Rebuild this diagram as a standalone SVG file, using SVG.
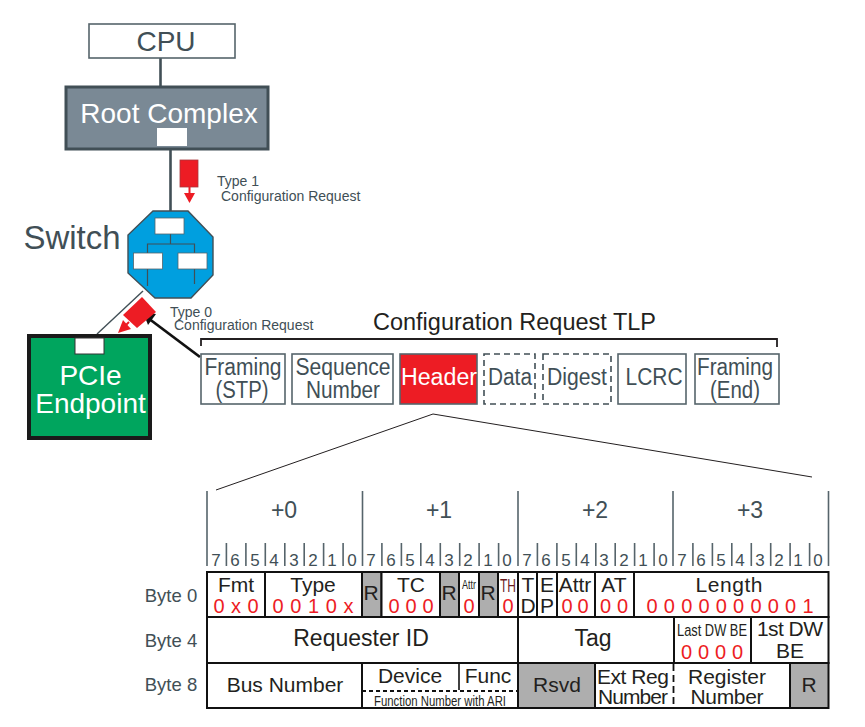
<svg xmlns="http://www.w3.org/2000/svg" width="865" height="727" viewBox="0 0 865 727">
<style>
text{font-family:"Liberation Sans",Arial,sans-serif;text-anchor:middle;fill:#231f20}
.g{fill:#414f56}
.r{fill:#ed1c24}
.wt{fill:#fff}
.bx{fill:#fff;stroke:#56646b;stroke-width:1.6}
.ds{fill:#fff;stroke:#414f56;stroke-width:1.6;stroke-dasharray:6 4}
.w{fill:#fff}
.ln{fill:none;stroke:#414f56;stroke-width:2.6}
.thin{fill:none;stroke:#231f20;stroke-width:1}
.cell{stroke:#111;stroke-width:2;fill:#fff}
.res{stroke:#111;stroke-width:2;fill:#aeaeae}
.tick{stroke:#56646b;stroke-width:1.6}
.div{stroke:#111;stroke-width:1.8;stroke-dasharray:4 3;fill:none}
.d{font-size:17px;fill:#414f56}
.f18{font-size:18.5px}.f20{font-size:20px}.f21{font-size:21px}.f23{font-size:23px}
.t{font-size:14px;text-anchor:start;fill:#414f56}
</style>
<g id="connectors">
<path class="ln" d="M160.500 58V86"/>
<path class="ln" d="M170.500 150V211"/>
<path d="M143 291L97 334" fill="none" stroke="#414f56" stroke-width="1.400"/>
<path d="M200 357L148 318" fill="none" stroke="#111" stroke-width="2.800"/>
<path d="M143 312L156 314L148 325Z" fill="#111"/>
<path class="thin" d="M216 490L433 414L812 477"/>
<path d="M201 346V339H777V347" fill="none" stroke="#231f20" stroke-width="1.800"/>
</g>
<g id="cpu"><rect class="bx" x="89" y="24" width="146" height="34"/><text x="166" y="51" font-size="28" class="g">CPU</text></g>
<g id="root-complex"><rect x="66" y="87" width="202" height="62" fill="#7a8995" stroke="#414f56" stroke-width="3"/><text x="169" y="123" font-size="28" class="wt">Root Complex</text><rect class="w" x="157" y="128" width="30" height="18"/></g>
<g id="switch"><text x="72" y="249" font-size="33" class="g">Switch</text>
<path d="M153 211H188L213 237V275L191 298H155L128 273V235Z" fill="#009fdf" stroke="#414f56" stroke-width="1.400"/>
<path d="M170.500 234V244M147.500 257V244H194.500V257M147.500 269V286M194.500 269V284" fill="none" stroke="#414f56" stroke-width="1.200"/>
<rect class="w" x="155" y="218" width="29" height="16" stroke="#56646b" stroke-width="0.800"/>
<rect class="w" x="133.500" y="253" width="29" height="16" stroke="#56646b" stroke-width="0.800"/>
<rect class="w" x="178" y="253" width="29" height="16" stroke="#56646b" stroke-width="0.800"/></g>
<g id="type1-packet"><rect x="180" y="160" width="18" height="27" fill="#ed1c24" stroke="#a8383c" stroke-width="0.800"/><path d="M189.500 187V193" stroke="#ed1c24" stroke-width="2"/><path d="M184 193H195L189.500 203Z" fill="#ed1c24"/></g>
<g id="type0-packet"><path d="M142 297L156 312L137 328L123 315Z" fill="#ed1c24"/><path d="M129 322L125 326" stroke="#ed1c24" stroke-width="2"/><path d="M118 333L131 329L123 320Z" fill="#ed1c24"/></g>
<text class="t" x="217" y="186">Type 1</text><text class="t" x="221" y="201">Configuration Request</text>
<text class="t" x="170" y="317">Type 0</text><text class="t" x="174" y="330">Configuration Request</text>
<g id="endpoint"><rect x="29" y="336" width="121" height="102" fill="#00a55e" stroke="#1a1a1a" stroke-width="4"/><rect class="w" x="75" y="338" width="29" height="16" stroke="#333" stroke-width="1"/><text x="90.500" y="385" font-size="28" class="wt">PCIe</text><text x="90.500" y="413" font-size="28" class="wt">Endpoint</text></g>
<text x="514.500" y="330" font-size="23.500">Configuration Request TLP</text>
<g id="tlp-framing-stp"><rect class="bx" x="201" y="354" width="84" height="50"/><text x="243" y="375" class="f23 g" textLength="77" lengthAdjust="spacingAndGlyphs">Framing</text><text x="242" y="398" class="f23 g" textLength="53" lengthAdjust="spacingAndGlyphs">(STP)</text></g>
<g id="tlp-seq"><rect class="bx" x="292" y="354" width="101" height="50"/><text x="343" y="375" class="f23 g" textLength="95" lengthAdjust="spacingAndGlyphs">Sequence</text><text x="343" y="398" class="f23 g" textLength="74" lengthAdjust="spacingAndGlyphs">Number</text></g>
<g id="tlp-header"><rect x="400" y="354" width="77" height="50" fill="#ed1c24" stroke="#56646b" stroke-width="1.600"/><text x="439" y="385" class="f23 wt" textLength="76" lengthAdjust="spacingAndGlyphs">Header</text></g>
<g id="tlp-data"><rect class="ds" x="484" y="354" width="51" height="50"/><text x="510" y="385" class="f23 g" textLength="44" lengthAdjust="spacingAndGlyphs">Data</text></g>
<g id="tlp-digest"><rect class="ds" x="543" y="354" width="68" height="50"/><text x="577" y="385" class="f23 g" textLength="60" lengthAdjust="spacingAndGlyphs">Digest</text></g>
<g id="tlp-lcrc"><rect class="bx" x="618" y="354" width="68" height="50"/><text x="654" y="385" class="f23 g" textLength="57" lengthAdjust="spacingAndGlyphs">LCRC</text></g>
<g id="tlp-framing-end"><rect class="bx" x="695" y="354" width="84" height="50"/><text x="735" y="375" class="f23 g" textLength="76" lengthAdjust="spacingAndGlyphs">Framing</text><text x="735" y="398" class="f23 g" textLength="50" lengthAdjust="spacingAndGlyphs">(End)</text></g>
<g id="header-scale">
<path class="tick" d="M207 491V566M362.500 491V566M518 491V566M673 491V566M828.500 491V566"/>
<path class="tick" d="M226.400 543V566M245.900 543V566M265.300 543V566M284.800 543V566M304.200 543V566M323.600 543V566M343.100 543V566M381.900 543V566M401.400 543V566M420.800 543V566M440.300 543V566M459.700 543V566M479.100 543V566M498.600 543V566M537.400 543V566M556.900 543V566M576.300 543V566M595.800 543V566M615.200 543V566M634.600 543V566M654.100 543V566M692.900 543V566M712.400 543V566M731.800 543V566M751.300 543V566M770.700 543V566M790.100 543V566M809.600 543V566"/>
<text x="284" y="518" class="f23 g">+0</text><text x="439" y="518" class="f23 g">+1</text><text x="595" y="518" class="f23 g">+2</text><text x="750" y="518" class="f23 g">+3</text>
<text x="216" y="566" class="d">7</text><text x="235" y="566" class="d">6</text><text x="255" y="566" class="d">5</text><text x="274" y="566" class="d">4</text><text x="294" y="566" class="d">3</text><text x="313" y="566" class="d">2</text><text x="332" y="566" class="d">1</text><text x="352" y="566" class="d">0</text>
<text x="371" y="566" class="d">7</text><text x="391" y="566" class="d">6</text><text x="410" y="566" class="d">5</text><text x="430" y="566" class="d">4</text><text x="449" y="566" class="d">3</text><text x="468" y="566" class="d">2</text><text x="488" y="566" class="d">1</text><text x="507" y="566" class="d">0</text>
<text x="527" y="566" class="d">7</text><text x="546" y="566" class="d">6</text><text x="566" y="566" class="d">5</text><text x="585" y="566" class="d">4</text><text x="604" y="566" class="d">3</text><text x="624" y="566" class="d">2</text><text x="643" y="566" class="d">1</text><text x="663" y="566" class="d">0</text>
<text x="682" y="566" class="d">7</text><text x="701" y="566" class="d">6</text><text x="721" y="566" class="d">5</text><text x="740" y="566" class="d">4</text><text x="760" y="566" class="d">3</text><text x="779" y="566" class="d">2</text><text x="798" y="566" class="d">1</text><text x="818" y="566" class="d">0</text>
</g>
<g id="byte-labels"><text x="171" y="602" class="f18 g">Byte 0</text><text x="171" y="647" class="f18 g">Byte 4</text><text x="171" y="691" class="f18 g">Byte 8</text></g>
<g id="row0">
<rect class="cell" x="207" y="572" width="58" height="45"/><rect class="cell" x="265" y="572" width="97" height="45"/><rect class="res" x="362" y="572" width="19.500" height="45"/><rect class="cell" x="381.500" y="572" width="58.500" height="45"/><rect class="res" x="440" y="572" width="19" height="45"/><rect class="cell" x="459" y="572" width="20" height="45"/><rect class="res" x="479" y="572" width="19" height="45"/><rect class="cell" x="498" y="572" width="20" height="45"/><rect class="cell" x="518" y="572" width="19" height="45"/><rect class="cell" x="537" y="572" width="20" height="45"/><rect class="cell" x="557" y="572" width="38" height="45"/><rect class="cell" x="595" y="572" width="39" height="45"/><rect class="cell" x="634" y="572" width="194.500" height="45"/>
<text x="236" y="592" class="f21">Fmt</text><text x="313" y="592" class="f21">Type</text><text x="371" y="600" class="f21">R</text><text x="411" y="592" class="f21">TC</text><text x="449" y="600" class="f21">R</text><text x="469" y="589" font-size="13" textLength="14" lengthAdjust="spacingAndGlyphs">Attr</text><text x="488" y="600" class="f21">R</text><text x="508" y="592" font-size="18" textLength="16" lengthAdjust="spacingAndGlyphs" style="fill:#6b1d1f">TH</text>
<text x="528" y="592" class="f21">T</text><text x="528" y="613" class="f21">D</text><text x="547" y="592" class="f21">E</text><text x="547" y="613" class="f21">P</text><text x="575" y="592" class="f21">Attr</text><text x="614" y="592" class="f21">AT</text><text x="729" y="592" class="f21" textLength="67">Length</text>
<text x="236" y="613" class="f20 r" textLength="45">0 x 0</text><text x="313" y="613" class="f20 r" textLength="81">0 0 1 0 x</text><text x="411" y="613" class="f20 r" textLength="45">0 0 0</text><text x="469" y="613" class="f20 r">0</text><text x="508" y="613" class="f20 r">0</text><text x="575" y="613" class="f20 r" textLength="27">0 0</text><text x="614" y="613" class="f20 r" textLength="28">0 0</text><text x="730" y="613" class="f20 r" textLength="167">0 0 0 0 0 0 0 0 0 1</text>
</g>
<g id="row1">
<rect class="cell" x="207" y="617" width="311" height="46"/><rect class="cell" x="518" y="617" width="156" height="46"/><rect class="cell" x="674" y="617" width="77" height="46"/><rect class="cell" x="751" y="617" width="77.500" height="46"/>
<text x="361" y="646" font-size="23">Requester ID</text><text x="593" y="646" font-size="23">Tag</text><text x="712" y="636" font-size="17" textLength="70" lengthAdjust="spacingAndGlyphs">Last DW BE</text><text x="712" y="659" class="f20 r" textLength="62">0 0 0 0</text><text x="790" y="636" class="f21" textLength="66">1st DW</text><text x="790" y="658" class="f21">BE</text>
</g>
<g id="row2">
<rect class="cell" x="207" y="663" width="155" height="45"/><rect class="cell" x="362" y="663" width="156" height="45"/><rect class="res" x="518" y="663" width="77" height="45"/><rect class="cell" x="595" y="663" width="195" height="45"/><rect class="res" x="790" y="663" width="38.500" height="45"/>
<path d="M459 663V690" stroke="#111" stroke-width="1.600"/><path class="div" d="M362 691H518"/><path class="div" style="stroke-dasharray:7 4" d="M673.500 664V707"/>
<text x="285" y="692" class="f21">Bus Number</text><text x="410" y="683" class="f21">Device</text><text x="488" y="683" class="f21">Func</text><text x="440" y="706" font-size="14" textLength="132" lengthAdjust="spacingAndGlyphs">Function Number with ARI</text><text x="557" y="692" class="f21">Rsvd</text><text x="633" y="684" class="f21" textLength="72">Ext Reg</text><text x="633" y="704" class="f21" textLength="70">Number</text><text x="727" y="684" class="f21" textLength="78">Register</text><text x="727" y="704" class="f21" textLength="73">Number</text><text x="809" y="692" class="f21">R</text>
</g>
</svg>
